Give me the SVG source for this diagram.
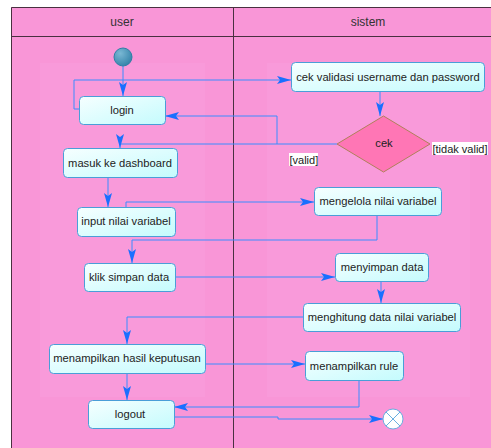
<svg xmlns="http://www.w3.org/2000/svg" width="491" height="448" viewBox="0 0 491 448">
<style>
.lane{fill:#F996D7;stroke:none}
.inner{fill:#F99ADA;stroke:none}
.frame{fill:none;stroke:#4a3040;stroke-width:1}
.hdr{font-family:"Liberation Sans",Arial,sans-serif;font-size:12px;fill:#333;text-anchor:middle}
.box{fill:url(#g);stroke:#4a9ed8;stroke-width:1}
.t{font-family:"Liberation Sans",Arial,sans-serif;font-size:11.2px;fill:#222;text-anchor:middle;dominant-baseline:central}
.c{fill:none;stroke:#3a8cff;stroke-width:1}
.lbl{font-family:"Liberation Sans",Arial,sans-serif;font-size:11px;fill:#222}
</style>
<defs>
<linearGradient id="g" x1="0" y1="0" x2="1" y2="1">
<stop offset="0" stop-color="#f6ffff"/>
<stop offset="1" stop-color="#c4fbfd"/>
</linearGradient>
<radialGradient id="ig" cx="0.35" cy="0.3" r="0.8">
<stop offset="0" stop-color="#7ab8d4"/>
<stop offset="1" stop-color="#2f7fa6"/>
</radialGradient>
<marker id="a" viewBox="0 0 14 8" refX="14" refY="4" markerWidth="14" markerHeight="8" markerUnits="userSpaceOnUse" orient="auto">
<path d="M0,0 L14,4 L0,8 L3,4 Z" fill="#1a6fff"/>
</marker>
</defs>
<rect x="0" y="0" width="491" height="448" fill="#ffffff"/>
<rect class="lane" x="11" y="7" width="480" height="441"/>
<rect class="inner" x="40" y="63" width="165" height="334"/>
<rect class="inner" x="267" y="63" width="203" height="334"/>
<path class="frame" d="M11.5,448 V7.5 H491 M11.5,36.5 H491 M233.5,7.5 V448"/>
<text class="hdr" x="122" y="26">user</text>
<text class="hdr" x="368" y="26">sistem</text>

<g id="connectors">
<path class="c" d="M123,66 V96" marker-end="url(#a)"/>
<path class="c" d="M79,109 H74 V80 H291" marker-end="url(#a)"/>
<path class="c" d="M380,91 V116" marker-end="url(#a)"/>
<path class="c" d="M337,144 H120 V148" marker-end="url(#a)"/>
<path class="c" d="M277,144 V116 H165" marker-end="url(#a)"/>
<path class="c" d="M108,177 V207" marker-end="url(#a)"/>
<path class="c" d="M126,207 V202 H314" marker-end="url(#a)"/>
<path class="c" d="M377,215 V240 H132 V263" marker-end="url(#a)"/>
<path class="c" d="M175,277 H335" marker-end="url(#a)"/>
<path class="c" d="M381,281 V303" marker-end="url(#a)"/>
<path class="c" d="M303,317 H127 V344" marker-end="url(#a)"/>
<path class="c" d="M205,364 H305" marker-end="url(#a)"/>
<path class="c" d="M127,373 V400" marker-end="url(#a)"/>
<path class="c" d="M359,380 V407 H174" marker-end="url(#a)"/>
<path class="c" d="M174,417 H278 V419 H383" marker-end="url(#a)"/>
</g>

<g id="start"><circle cx="123" cy="57" r="9" fill="url(#ig)" stroke="#2f7fa6" stroke-width="1"/></g>
<g id="login"><rect class="box" x="79.5" y="96.5" width="86" height="28" rx="4"/><text class="t" x="122" y="110">login</text></g>
<g id="dashboard"><rect class="box" x="63.5" y="148.5" width="114" height="29" rx="4"/><text class="t" x="120" y="163">masuk ke dashboard</text></g>
<g id="input"><rect class="box" x="77.5" y="207.5" width="98" height="29" rx="4"/><text class="t" x="126" y="221">input nilai variabel</text></g>
<g id="klik"><rect class="box" x="84.5" y="263.5" width="91" height="28" rx="4"/><text class="t" x="129" y="277">klik simpan data</text></g>
<g id="hasil"><rect class="box" x="49.5" y="344.5" width="156" height="29" rx="4"/><text class="t" x="127" y="358">menampilkan hasil keputusan</text></g>
<g id="logout"><rect class="box" x="88.5" y="400.5" width="86" height="28" rx="4"/><text class="t" x="130" y="414">logout</text></g>

<g id="cekvalidasi"><rect class="box" x="291.5" y="62.5" width="193" height="29" rx="4"/><text class="t" x="388" y="77">cek validasi username dan password</text></g>
<g id="cek"><path d="M383.5,116 L430,144 L383.5,172 L337,144 Z" fill="#ff76b5" stroke="#b0805a" stroke-width="1"/><text class="t" x="384" y="143">cek</text></g>
<g id="lbl-valid"><rect x="289" y="153" width="29" height="13" fill="#ffffff"/><text class="lbl" x="289.5" y="163.5">[valid]</text></g>
<g id="lbl-tidak"><rect x="432" y="142" width="56" height="13" fill="#ffffff"/><text class="lbl" x="432.5" y="152.5">[tidak valid]</text></g>
<g id="mengelola"><rect class="box" x="314.5" y="187.5" width="127" height="28" rx="4"/><text class="t" x="378" y="201">mengelola nilai variabel</text></g>
<g id="menyimpan"><rect class="box" x="335.5" y="253.5" width="93" height="28" rx="4"/><text class="t" x="382" y="267">menyimpan data</text></g>
<g id="menghitung"><rect class="box" x="303.5" y="303.5" width="157" height="28" rx="4"/><text class="t" x="382" y="317">menghitung data nilai variabel</text></g>
<g id="rule"><rect class="box" x="305.5" y="351.5" width="98" height="29" rx="4"/><text class="t" x="354" y="366">menampilkan rule</text></g>
<g id="end"><circle cx="393" cy="419" r="10" fill="#ffffff" stroke="#6aaee0" stroke-width="1"/><path d="M386,412 L400,426 M400,412 L386,426" stroke="#6aaee0" stroke-width="1"/></g>
</svg>
